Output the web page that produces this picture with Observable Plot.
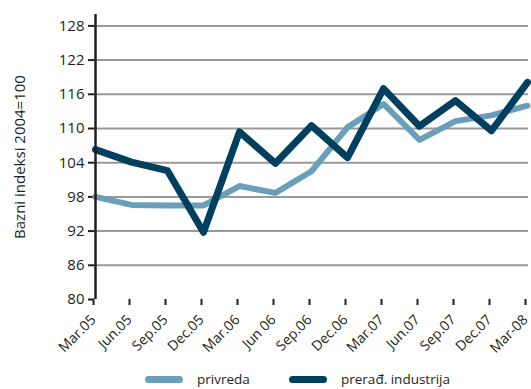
<!DOCTYPE html>
<html>
<head>
<meta charset="utf-8">
<script src="https://cdn.jsdelivr.net/npm/d3@7"></script>
<script src="https://cdn.jsdelivr.net/npm/@observablehq/plot@0.6"></script>
<style>
  html, body { margin: 0; padding: 0; background: #fff; overflow: hidden; }
  #chart { width: 531px; height: 389px; position: relative; font-family: "Open Sans", sans-serif; }
  #legend { position: absolute; left: 0; top: 369px; width: 531px; height: 20px; font-size: 13.5px; line-height: 20px; color: #231f20; }
  .item { position: absolute; top: 0; display: flex; align-items: center; height: 20px; }
  .sw { display: inline-block; width: 38px; height: 7px; border-radius: 4px; margin-right: 14px; }
</style>
</head>
<body>
<div id="chart"></div>
<script>
// Quarterly base indices (2004 = 100)
const quarters = ["Mar.05","Jun.05","Sep.05","Dec.05","Mar.06","Jun 06","Sep.06","Dec.06","Mar.07","Jun.07","Sep.07","Dec.07","Mar-08"];
const privreda = [98.0, 96.6, 96.5, 96.5, 99.9, 98.7, 102.5, 110.2, 114.3, 108.0, 111.3, 112.3, 114.0];
const preradIndustrija = [106.3, 104.1, 102.6, 91.8, 109.4, 103.9, 110.5, 104.9, 117.0, 110.4, 114.9, 109.6, 118.1];
const yTicks = [80, 86, 92, 98, 104, 110, 116, 122, 128];
const seriesNames = ["privreda", "prerađ. industrija"];
const seriesColors = ["#6a9fba", "#003f5e"];

const rows = (vals) => quarters.map((q, i) => ({q, v: vals[i]}));

const plot = Plot.plot({
  width: 531,
  height: 365,
  marginLeft: 94,
  marginRight: 3,
  marginTop: 14,
  marginBottom: 66,
  style: {fontFamily: "Open Sans, sans-serif", fontSize: "14px", color: "#231f20", background: "#fff", overflow: "visible"},
  x: {type: "point", domain: quarters, padding: 0},
  y: {domain: [80, 130]},
  marks: [
    Plot.ruleY(yTicks.slice(1), {stroke: "#999", strokeWidth: 2}),
    Plot.axisY({ticks: yTicks, tickSize: 6, tickPadding: 4, strokeWidth: 2, stroke: "#231f20", fontSize: 15, label: null}),
    Plot.axisX({tickSize: 6, tickRotate: -45, tickPadding: 12, dx: -2, strokeWidth: 2, stroke: "#231f20", fontSize: 14, label: null}),
    // rotated y-axis title, centred on the plot height
    Plot.text(["Bazni indeksi 2004=100"], {frameAnchor: "left", textAnchor: "middle", dx: -74, dy: 0, rotate: -90, fontSize: 15, fill: "#231f20"}),
    Plot.line(rows(privreda), {x: "q", y: "v", stroke: seriesColors[0], strokeWidth: 6, strokeLinejoin: "round"}),
    Plot.line(rows(preradIndustrija), {x: "q", y: "v", stroke: seriesColors[1], strokeWidth: 7, strokeLinejoin: "round"}),
    Plot.ruleX([quarters[0]], {y1: 80, y2: 130, stroke: "#231f20", strokeWidth: 2.5}),
    Plot.ruleY([80], {x1: quarters[0], x2: quarters[quarters.length - 1], stroke: "#231f20", strokeWidth: 2.5})
  ]
});

const chart = document.getElementById("chart");
chart.appendChild(plot);

const legend = document.createElement("div");
legend.id = "legend";
const lefts = [145, 289];
seriesNames.forEach((name, i) => {
  const item = document.createElement("div");
  item.className = "item";
  item.style.left = lefts[i] + "px";
  const sw = document.createElement("span");
  sw.className = "sw";
  sw.style.background = seriesColors[i];
  item.appendChild(sw);
  item.appendChild(document.createTextNode(name));
  legend.appendChild(item);
});
chart.appendChild(legend);
</script>
</body>
</html>
